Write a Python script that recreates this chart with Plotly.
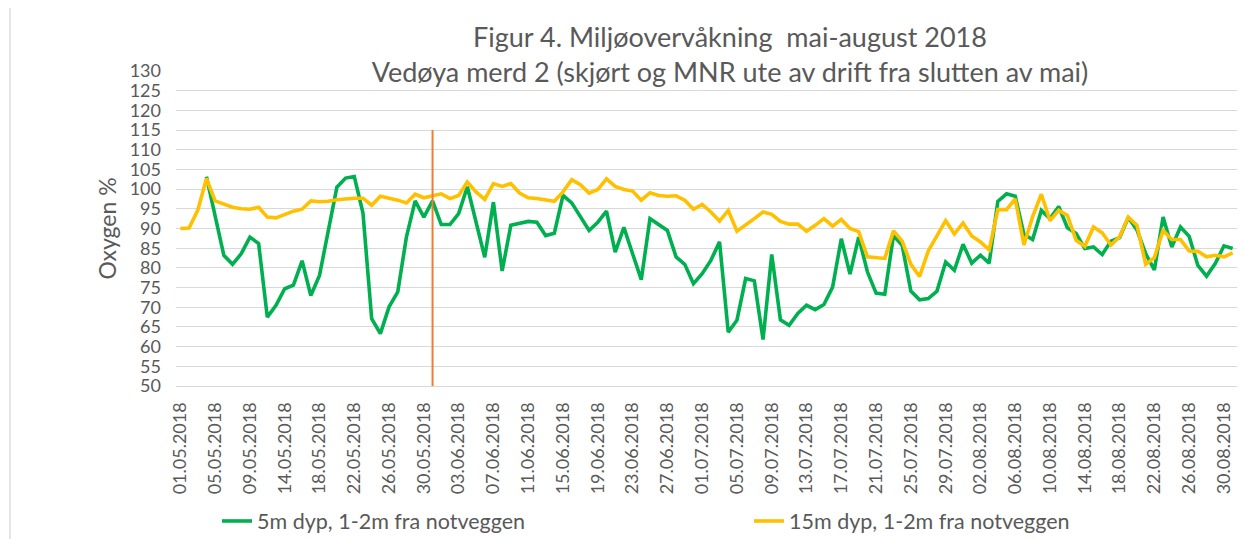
import plotly.graph_objects as go
import pandas as pd

# --- data -----------------------------------------------------------------
TITLE_LINES = [
    "Figur 4. Miljøovervåkning\u00a0 mai-august 2018",
    "Vedøya merd 2 (skjørt og MNR ute av drift fra slutten av mai)",
]
Y_TITLE = "Oxygen %"

# one day has no measurement between 09.05 and 14.05
MISSING_DATE = "13.05.2018"
DATES = [d for d in pd.date_range("2018-05-01", "2018-08-31").strftime("%d.%m.%Y")
         if d != MISSING_DATE]

TICK_LABELS = [
    "01.05.2018", "05.05.2018", "09.05.2018", "14.05.2018", "18.05.2018",
    "22.05.2018", "26.05.2018", "30.05.2018", "03.06.2018", "07.06.2018",
    "11.06.2018", "15.06.2018", "19.06.2018", "23.06.2018", "27.06.2018",
    "01.07.2018", "05.07.2018", "09.07.2018", "13.07.2018", "17.07.2018",
    "21.07.2018", "25.07.2018", "29.07.2018", "02.08.2018", "06.08.2018",
    "10.08.2018", "14.08.2018", "18.08.2018", "22.08.2018", "26.08.2018",
    "30.08.2018",
]

SERIES_5M = "5m dyp, 1-2m fra notveggen"
SERIES_15M = "15m dyp, 1-2m fra notveggen"

OXY_5M = [
    None, None, None, 103.2, 93.0, 83.2, 80.9, 83.6, 87.8, 86.2,
    67.5, 70.5, 74.7, 75.6, 81.8, 73.0, 78.1, 89.0, 100.5, 102.8,
    103.2, 93.9, 67.1, 63.3, 70.1, 73.9, 87.9, 97.0, 92.9, 97.0,
    91.0, 91.0, 93.8, 100.6, 91.5, 82.7, 96.7, 79.2, 90.8, 91.4,
    91.8, 91.6, 88.2, 88.8, 98.4, 96.5, 92.9, 89.5, 91.6, 94.4,
    84.0, 90.3, 83.6, 77.0, 92.5, 91.1, 89.5, 82.8, 80.9, 76.0,
    78.5, 81.9, 86.6, 63.7, 66.7, 77.3, 76.7, 61.8, 83.4, 66.8,
    65.4, 68.4, 70.5, 69.4, 70.7, 75.1, 87.4, 78.4, 87.8, 79.0,
    73.6, 73.3, 88.2, 85.7, 74.1, 71.9, 72.2, 74.1, 81.5, 79.4,
    86.0, 81.2, 83.2, 81.2, 96.9, 98.8, 98.2, 88.5, 87.2, 94.6,
    92.5, 95.6, 90.2, 88.7, 84.9, 85.3, 83.4, 86.8, 87.7, 92.8,
    89.6, 83.6, 79.5, 92.9, 85.3, 90.4, 88.0, 80.6, 77.9, 81.1,
    85.6, 84.9,
]

OXY_15M = [
    90.0, 90.1, 94.6, 102.7, 97.0, 96.1, 95.4, 95.0, 94.9, 95.4,
    92.9, 92.7, 93.5, 94.4, 94.9, 97.0, 96.8, 96.9, 97.3, 97.6,
    97.7, 97.7, 95.9, 98.2, 97.8, 97.2, 96.5, 98.7, 97.8, 98.4,
    98.8, 97.6, 98.4, 101.8, 99.3, 97.4, 101.4, 100.7, 101.4, 99.0,
    97.8, 97.6, 97.3, 96.9, 99.3, 102.4, 101.1, 99.0, 99.9, 102.6,
    100.7, 99.9, 99.5, 97.2, 99.1, 98.4, 98.2, 98.3, 97.2, 94.9,
    96.1, 94.2, 91.9, 94.6, 89.3, 90.8, 92.5, 94.2, 93.6, 91.8,
    91.1, 91.1, 89.3, 90.8, 92.5, 90.6, 92.3, 90.0, 89.2, 82.8,
    82.6, 82.4, 89.4, 86.8, 80.9, 77.8, 84.3, 88.1, 92.0, 88.6,
    91.4, 88.1, 86.6, 84.6, 94.8, 94.8, 97.5, 85.8, 93.0, 98.7,
    92.0, 94.6, 93.3, 87.0, 85.5, 90.4, 88.9, 85.8, 87.9, 92.9,
    90.8, 80.9, 82.6, 89.5, 87.2, 87.2, 84.3, 84.2, 82.8, 83.2,
    82.8, 83.8,
]

# skirt and MNR out of service from end of May
EVENT_DATE = "31.05.2018"
EVENT_SPAN = [50, 115]

# --- layout constants -----------------------------------------------------
# the page body has an 8px margin, so the figure is 8px smaller than the window
W, H = 1240, 531
M_L, M_R, M_T, M_B = 168, 11, 63, 153
PLOT_W = W - M_L - M_R
PLOT_H = H - M_T - M_B
GREY = "#595959"
GRID = "#D9D9D9"
FONT = "Lato, 'Open Sans', sans-serif"

fig = go.Figure()

fig.add_trace(go.Scatter(
    x=DATES, y=OXY_5M, mode="lines", name=SERIES_5M,
    line=dict(color="#00B050", width=3.6), connectgaps=False,
))
fig.add_trace(go.Scatter(
    x=DATES, y=OXY_15M, mode="lines", name=SERIES_15M,
    line=dict(color="#FFC000", width=3.6),
))
fig.add_trace(go.Scatter(
    x=[EVENT_DATE, EVENT_DATE], y=EVENT_SPAN, mode="lines",
    line=dict(color="#ED7D31", width=2), showlegend=False, hoverinfo="skip",
))

fig.update_layout(
    width=W, height=H,
    margin=dict(l=M_L, r=M_R, t=M_T, b=M_B, autoexpand=False),
    paper_bgcolor="white", plot_bgcolor="white",
    font=dict(family=FONT, color=GREY, size=20),
    title=dict(
        text="<br>".join(TITLE_LINES),
        x=722 / W, xanchor="center",
        y=1 - 39 / H, yanchor="top",
        font=dict(family=FONT, size=27, color=GREY),
    ),
    showlegend=True,
    legend=dict(
        orientation="h",
        x=(209 - M_L) / PLOT_W, xanchor="left",
        y=-(513 - (M_T + PLOT_H)) / PLOT_H, yanchor="middle",
        font=dict(size=21.5, color=GREY),
        entrywidth=487, entrywidthmode="pixels",
        bgcolor="rgba(0,0,0,0)",
    ),
)

fig.update_xaxes(
    type="category",
    categoryorder="array", categoryarray=DATES,
    range=[-0.5, len(DATES) - 0.5],
    tickmode="array", tickvals=TICK_LABELS, ticktext=TICK_LABELS,
    tickangle=-90, tickfont=dict(size=18, color=GREY),
    ticks="", ticklabelstandoff=8,
    showgrid=False, zeroline=False,
    showline=True, linecolor=GRID, linewidth=1.3,
)

fig.update_yaxes(
    range=[50, 130], tick0=50, dtick=5,
    tickfont=dict(size=18, color=GREY),
    ticks="", ticklabelstandoff=14,
    showgrid=True, gridcolor=GRID, gridwidth=1.3,
    zeroline=False, showline=False,
    title=dict(text=Y_TITLE, font=dict(size=23, color=GREY), standoff=6),
)

# thin frame line at the left edge of the chart area
fig.add_shape(
    type="line", xref="paper", yref="paper",
    x0=(2 - M_L) / PLOT_W, x1=(2 - M_L) / PLOT_W,
    y0=-M_B / PLOT_H, y1=1 + M_T / PLOT_H,
    line=dict(color=GRID, width=1.3),
)

fig.write_html("out.html")
